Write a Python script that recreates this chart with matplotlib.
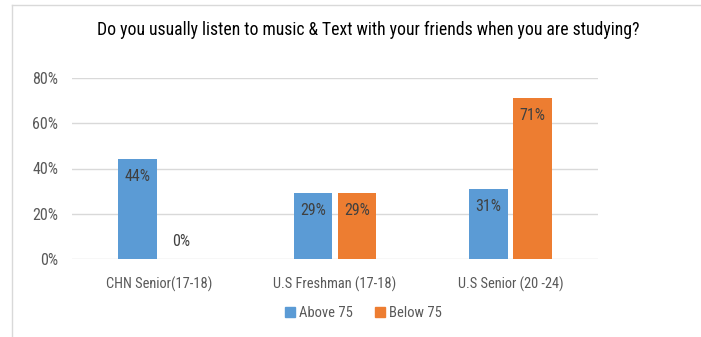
import matplotlib
matplotlib.use('Agg')
import matplotlib.pyplot as plt
import numpy as np
from matplotlib.lines import Line2D

plt.rcParams['font.family'] = ['Roboto Condensed', 'Roboto', 'DejaVu Sans']

# 차트 자료
categories = ['CHN Senior(17-18)', 'U.S Freshman (17-18)', 'U.S Senior (20 -24)']
above_75 = [0.44, 0.29, 0.31]
below_75 = [0.00, 0.29, 0.71]
series_names = ['Above 75', 'Below 75']
yticks = [0, 0.2, 0.4, 0.6, 0.8]

blue = '#5B9BD5'
orange = '#ED7D31'

fig = plt.figure(figsize=(7.01, 3.37), dpi=100)
ax = fig.add_axes([72 / 701, 78 / 337, 526 / 701, 181 / 337])

x = np.arange(len(categories))
w = 0.22
off = 0.125
b1 = ax.bar(x - off, above_75, w, color=blue, zorder=3)
b2 = ax.bar(x + off, below_75, w, color=orange, zorder=3)

# 막대 라벨
for bars, vals in [(b1, above_75), (b2, below_75)]:
    for rect, v in zip(bars, vals):
        cx = rect.get_x() + rect.get_width() / 2
        if v == 0:
            ax.annotate('0%', (cx, 0), xytext=(0, 7), textcoords='offset points',
                        ha='center', va='bottom', fontsize=11.5, color='#404040')
        else:
            ax.annotate(f'{v * 100:.0f}%', (cx, v), xytext=(0, -7), textcoords='offset points',
                        ha='center', va='top', fontsize=11.5, color='#404040', zorder=4)

ax.set_xlim(-0.5, 2.5)
ax.set_ylim(0, 0.8)
ax.set_yticks(yticks)
ax.set_yticklabels([f'{t * 100:.0f}%' for t in yticks])
ax.set_xticks(x)
ax.set_xticklabels(categories)
ax.tick_params(length=0, labelsize=10.4, colors='#595959')
ax.tick_params(axis='y', pad=10, labelsize=11.5)
ax.tick_params(axis='x', pad=13)
ax.grid(axis='y', color='#D9D9D9', linewidth=1, zorder=0)
for s in ax.spines.values():
    s.set_visible(False)

fig.text(368 / 701, 1 - 30 / 337, 'Do you usually listen to music & Text with your friends when you are studying?',
         ha='center', va='center', fontsize=12.7, color='#000000')

handles = [Line2D([], [], marker='s', linestyle='none', color=blue, markersize=7),
           Line2D([], [], marker='s', linestyle='none', color=orange, markersize=7)]
fig.legend(handles, series_names, loc='center', bbox_to_anchor=(363 / 701, 1 - 313 / 337),
           ncol=2, frameon=False, fontsize=10.5, labelcolor='#595959', handletextpad=0.2,
           columnspacing=1.5, handlelength=0.8)

# 테두리
fig.add_artist(Line2D([12 / 701, 12 / 701], [0, 1 - 5 / 337], color='#D9D9D9', linewidth=1))
fig.add_artist(Line2D([12 / 701, 1], [1 - 5 / 337, 1 - 5 / 337], color='#D9D9D9', linewidth=1))

fig.savefig('out.png', dpi=100)
